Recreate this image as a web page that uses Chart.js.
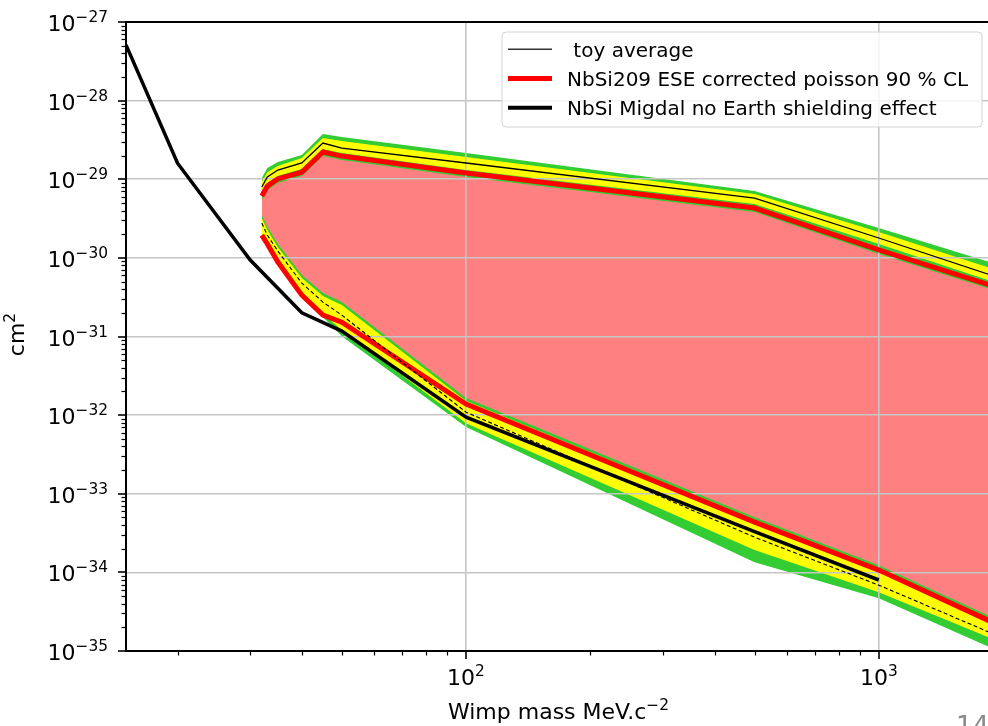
<!DOCTYPE html>
<html>
<head>
<meta charset="utf-8">
<script src="https://cdn.jsdelivr.net/npm/chart.js@4.4.1/dist/chart.umd.min.js"></script>
<style>
  html, body { margin: 0; padding: 0; background: #fff; overflow: hidden; }
  #wrap { position: relative; width: 1000px; height: 726px; }
</style>
</head>
<body>
<div id="wrap"><canvas id="chart"></canvas></div>
<script>
// WIMP masses (MeV/c^2) at which the exclusion contour and its toy bands are given
const massBand = [32, 33, 35, 40, 45, 50, 100, 500, 1000, 2000];

// upper branch of the contour (cross-section, cm^2)
const upperGreenOuter  = [1.04e-29, 1.39e-29, 1.66e-29, 2.03e-29, 3.76e-29, 3.44e-29, 2.15e-29, 7.08e-30, 2.39e-30, 7.86e-31];
const upperYellowOuter = [9.21e-30, 1.23e-29, 1.47e-29, 1.86e-29, 3.34e-29, 3.06e-29, 1.92e-29, 6.48e-30, 2.13e-30, 6.60e-31];
const upperToy         = [7.96e-30, 1.07e-29, 1.31e-29, 1.61e-29, 2.89e-29, 2.49e-29, 1.61e-29, 5.77e-30, 1.79e-30, 5.37e-31];
const upperYellowInner = [6.88e-30, 8.95e-30, 1.10e-29, 1.35e-29, 2.42e-29, 2.15e-29, 1.31e-29, 4.84e-30, 1.50e-30, 4.51e-31];
const upperLimit       = [6.11e-30, 8.19e-30, 1.01e-29, 1.23e-29, 2.22e-29, 1.97e-29, 1.20e-29, 4.30e-30, 1.26e-30, 4.01e-31];
const upperGreenInner  = [5.44e-30, 7.29e-30, 8.95e-30, 1.10e-29, 1.97e-29, 1.76e-29, 1.07e-29, 3.83e-30, 1.12e-30, 3.57e-31];

// lower branch of the contour (cross-section, cm^2)
const lowerGreenInner  = [3.50e-30, 2.47e-30, 1.50e-30, 6.04e-31, 3.57e-31, 2.74e-31, 1.65e-32, 5.04e-34, 1.23e-34, 2.32e-35];
const lowerYellowInner = [3.21e-30, 2.26e-30, 1.37e-30, 5.53e-31, 3.27e-31, 2.51e-31, 1.51e-32, 4.61e-34, 1.13e-34, 2.13e-35];
const lowerToy         = [2.77e-30, 1.95e-30, 1.22e-30, 4.78e-31, 2.74e-31, 1.87e-31, 1.09e-32, 2.80e-34, 6.88e-35, 1.46e-35];
const lowerLimit       = [1.95e-30, 1.50e-30, 8.84e-31, 3.36e-31, 1.87e-31, 1.52e-31, 1.38e-32, 4.35e-34, 1.07e-34, 2.01e-35];
const lowerYellowOuter = [2.01e-30, 1.54e-30, 9.11e-31, 3.46e-31, 1.93e-31, 1.21e-31, 7.91e-33, 1.92e-34, 5.60e-35, 1.26e-35];
const lowerGreenOuter  = [1.89e-30, 1.41e-30, 8.59e-31, 3.27e-31, 1.77e-31, 1.01e-31, 7.04e-33, 1.35e-34, 4.70e-35, 9.38e-36];

// Migdal limit without Earth shielding
const massMigdal  = [15, 20, 30, 40, 50, 100, 500, 1000];
const migdalLimit = [5.1e-28, 1.6e-29, 9.4e-31, 2.0e-31, 1.17e-31, 9.4e-33, 3.3e-34, 8.0e-35];

// axis ticks
const xMajorTicks = [1e2, 1e3];
const xTickExponents = ['2', '3'];
const yMajorTicks = [1e-35, 1e-34, 1e-33, 1e-32, 1e-31, 1e-30, 1e-29, 1e-28, 1e-27];
const yTickExponents = ['\u221235', '\u221234', '\u221233', '\u221232', '\u221231', '\u221230', '\u221229', '\u221228', '\u221227'];

const legendLabels = [' toy average', 'NbSi209 ESE corrected poisson 90 % CL', 'NbSi Migdal no Earth shielding effect'];

const FONT = '"DejaVu Sans", "Liberation Sans", sans-serif';
const PINK = '#ff8080';
const GREEN = '#33cc33';
const YELLOW = '#ffff00';
const CLEAR = 'rgba(0,0,0,0)';

const pts = (xs, ys) => xs.map((x, i) => ({ x: x, y: ys[i] }));

function edge(values, extra) {
  return Object.assign({
    data: pts(massBand, values),
    borderColor: CLEAR,
    borderWidth: 0,
    pointRadius: 0,
    fill: false,
    tension: 0
  }, extra);
}

const datasets = [
  // 0,1: exclusion limit, filled in between
  edge(upperLimit, { label: legendLabels[1], borderColor: '#ff0000', borderWidth: 5,
                     fill: { target: 1 }, backgroundColor: PINK, order: 30 }),
  edge(lowerLimit, { borderColor: '#ff0000', borderWidth: 5, order: 30 }),
  // 2..5: 2 sigma bands
  edge(upperGreenOuter, { fill: { target: 3 }, backgroundColor: GREEN, order: 20 }),
  edge(upperGreenInner, { order: 20 }),
  edge(lowerGreenInner, { fill: { target: 5 }, backgroundColor: GREEN, order: 20 }),
  edge(lowerGreenOuter, { order: 20 }),
  // 6..9: 1 sigma bands
  edge(upperYellowOuter, { fill: { target: 7 }, backgroundColor: YELLOW, order: 10 }),
  edge(upperYellowInner, { order: 10 }),
  edge(lowerYellowInner, { fill: { target: 9 }, backgroundColor: YELLOW, order: 10 }),
  edge(lowerYellowOuter, { order: 10 }),
  // 10,11: toy average
  edge(upperToy, { label: legendLabels[0], borderColor: '#000', borderWidth: 1.3, order: 5 }),
  edge(lowerToy, { borderColor: '#000', borderWidth: 1.1, borderDash: [4, 2.5], order: 5 }),
  // 12: Migdal curve
  {
    label: legendLabels[2],
    data: pts(massMigdal, migdalLimit),
    borderColor: '#000', borderWidth: 3.5, pointRadius: 0, fill: false, tension: 0, order: 1
  }
];

function drawPower(ctx, base, exp, x, baseline, align, size) {
  const big = size + 'px ' + FONT;
  const small = (size * 0.7).toFixed(1) + 'px ' + FONT;
  ctx.font = big;
  const wb = ctx.measureText(base).width;
  ctx.font = small;
  const we = ctx.measureText(exp).width;
  const total = wb + we;
  const x0 = align === 'center' ? x - total / 2 : (align === 'right' ? x - total : x);
  ctx.textAlign = 'left';
  ctx.textBaseline = 'alphabetic';
  ctx.font = big;
  ctx.fillText(base, x0, baseline);
  ctx.font = small;
  ctx.fillText(exp, x0 + wb, baseline - size * 0.41);
}

// ticks, tick labels, titles, top spine
const axisDecor = {
  id: 'axisDecor',
  afterDraw(chart) {
    const { ctx, chartArea: a, scales: { x, y } } = chart;
    ctx.save();
    ctx.strokeStyle = '#000';
    ctx.fillStyle = '#000';

    ctx.lineWidth = 2;
    ctx.beginPath();
    ctx.moveTo(a.left - 1, a.top);
    ctx.lineTo(a.right, a.top);
    ctx.stroke();

    const tick = (x1, y1, x2, y2, w) => {
      ctx.lineWidth = w;
      ctx.beginPath();
      ctx.moveTo(x1, y1);
      ctx.lineTo(x2, y2);
      ctx.stroke();
    };

    // x ticks
    [10, 100, 1000].forEach(dec => {
      for (let k = 2; k <= 9; k++) {
        const v = k * dec;
        if (v < x.min || v > x.max) continue;
        const px = Math.round(x.getPixelForValue(v)) + 0.5;
        tick(px, a.bottom, px, a.bottom + 4.5, 1.2);
      }
    });
    xMajorTicks.forEach((v, i) => {
      const px = Math.round(x.getPixelForValue(v));
      tick(px, a.bottom, px, a.bottom + 8, 1.6);
      drawPower(ctx, '10', xTickExponents[i], px, a.bottom + 34, 'center', 22);
    });

    // y ticks
    yMajorTicks.forEach((v, i) => {
      const py = Math.round(y.getPixelForValue(v));
      if (i < yMajorTicks.length - 1) {
        for (let k = 2; k <= 9; k++) {
          const mpy = Math.round(y.getPixelForValue(k * v)) + 0.5;
          tick(a.left - 4.5, mpy, a.left, mpy, 1.2);
        }
      }
      tick(a.left - 8, py, a.left, py, 1.6);
      drawPower(ctx, '10', yTickExponents[i], a.left - 18, py + 9, 'right', 22);
    });

    // axis titles
    drawPower(ctx, 'Wimp mass MeV.c', '\u22122', (a.left + a.right) / 2, 719, 'center', 22);
    ctx.save();
    ctx.translate(24, (a.top + a.bottom) / 2 - 2);
    ctx.rotate(-Math.PI / 2);
    drawPower(ctx, 'cm', '2', 0, 0, 'center', 22);
    ctx.restore();

    // page number
    ctx.fillStyle = '#8a8a8a';
    ctx.font = '26px ' + FONT;
    ctx.textAlign = 'left';
    ctx.fillText('14', 956, 735);
    ctx.restore();
  }
};

// legend box inside the plot
const legendBox = {
  id: 'legendBox',
  afterDraw(chart, args, opts) {
    const { ctx, chartArea: a } = chart;
    const items = opts.items.map(i => chart.data.datasets[i]);
    const right = a.right - 9, left = right - 480, top = a.top + 10, h = 95, r = 4;
    ctx.save();
    ctx.beginPath();
    ctx.moveTo(left + r, top);
    ctx.lineTo(right - r, top);
    ctx.quadraticCurveTo(right, top, right, top + r);
    ctx.lineTo(right, top + h - r);
    ctx.quadraticCurveTo(right, top + h, right - r, top + h);
    ctx.lineTo(left + r, top + h);
    ctx.quadraticCurveTo(left, top + h, left, top + h - r);
    ctx.lineTo(left, top + r);
    ctx.quadraticCurveTo(left, top, left + r, top);
    ctx.closePath();
    ctx.fillStyle = 'rgba(255,255,255,0.8)';
    ctx.fill();
    ctx.strokeStyle = '#d4d4d4';
    ctx.lineWidth = 1;
    ctx.stroke();

    const sampleW = [1.4, 5, 4];
    items.forEach((d, i) => {
      const yy = top + 17.3 + i * 29.2;
      ctx.strokeStyle = i === 0 ? '#333' : d.borderColor;
      ctx.lineWidth = sampleW[i];
      ctx.setLineDash([]);
      ctx.beginPath();
      ctx.moveTo(left + 6, yy);
      ctx.lineTo(left + 50, yy);
      ctx.stroke();
      ctx.fillStyle = '#000';
      ctx.font = '20px ' + FONT;
      ctx.textAlign = 'left';
      ctx.textBaseline = 'alphabetic';
      ctx.fillText(d.label, left + 65, yy + 7.3);
    });
    ctx.restore();
  }
};

const decadeTicks = list => scale => { scale.ticks = list.map(v => ({ value: v })); };

new Chart(document.getElementById('chart'), {
  type: 'line',
  data: { datasets: datasets },
  options: {
    responsive: true,
    maintainAspectRatio: false,
    devicePixelRatio: 1,
    animation: false,
    events: [],
    layout: { padding: { top: 22, right: 9, left: 0, bottom: 0 } },
    scales: {
      x: {
        type: 'logarithmic',
        min: 15,
        max: 1870,
        afterBuildTicks: decadeTicks(xMajorTicks),
        afterFit: s => { s.height = 75; },
        ticks: { display: false },
        grid: { color: '#c6c6c6', lineWidth: 1.6, drawTicks: false },
        border: { display: true, color: '#000', width: 2 }
      },
      y: {
        type: 'logarithmic',
        min: 1e-35,
        max: 1e-27,
        afterBuildTicks: decadeTicks(yMajorTicks),
        afterFit: s => { s.width = 126; },
        ticks: { display: false },
        grid: { color: '#c6c6c6', lineWidth: 1.6, drawTicks: false },
        border: { display: true, color: '#000', width: 2 }
      }
    },
    plugins: {
      legend: { display: false },
      tooltip: { enabled: false },
      filler: { drawTime: 'beforeDraw', propagate: false },
      legendBox: { items: [10, 0, 12] }
    }
  },
  plugins: [axisDecor, legendBox]
});
</script>
</body>
</html>
